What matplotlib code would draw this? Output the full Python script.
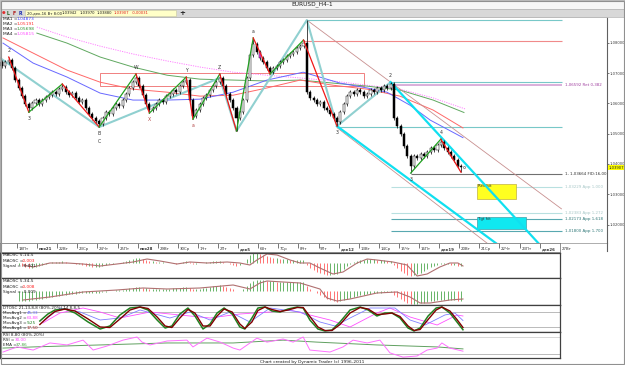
import numpy as np
import matplotlib.pyplot as plt
from matplotlib.patches import Rectangle
from matplotlib.transforms import blended_transform_factory

W, H = 625, 365

# ---------------- data ----------------
# EURUSD H4 candles, prices in pips above 1.0000
open_first_pips = 736
close_pips = [723, 736, 743, 717, 677, 651, 624, 598, 585, 601,
              611, 598, 611, 621, 628, 637, 631, 647, 654, 637,
              628, 634, 618, 604, 611, 585, 565, 552, 542, 532,
              552, 571, 565, 585, 598, 591, 611, 631, 651, 670,
              684, 657, 628, 598, 578, 585, 598, 611, 604, 624,
              631, 644, 637, 657, 670, 677, 611, 558, 578, 598,
              618, 628, 644, 657, 670, 684, 657, 631, 611, 585,
              552, 571, 611, 684, 760, 796, 769, 750, 736, 717,
              703, 717, 723, 736, 743, 756, 763, 769, 783, 789,
              799, 637, 618, 611, 598, 604, 585, 578, 565, 552,
              538, 571, 598, 624, 637, 631, 644, 637, 624, 631,
              644, 637, 651, 644, 657, 651, 664, 552, 525, 499,
              459, 426, 393, 426, 420, 433, 426, 439, 453, 446,
              463, 472, 453, 439, 426, 413, 393, 390]
high_pips = [742, 742, 753, 749, 723, 683, 657, 630, 604, 607,
             617, 617, 617, 627, 634, 643, 643, 653, 664, 660,
             643, 640, 640, 624, 617, 617, 591, 571, 558, 548,
             558, 577, 577, 591, 604, 604, 617, 637, 657, 676,
             697, 690, 663, 634, 604, 591, 604, 617, 617, 630,
             637, 650, 650, 663, 676, 687, 683, 617, 584, 604,
             624, 634, 650, 663, 676, 697, 690, 663, 637, 617,
             591, 577, 617, 690, 766, 816, 802, 775, 756, 742,
             723, 723, 729, 742, 749, 762, 769, 775, 789, 795,
             809, 875, 643, 624, 617, 610, 610, 591, 584, 571,
             558, 577, 604, 630, 643, 643, 650, 650, 643, 637,
             650, 650, 657, 657, 663, 663, 670, 670, 558, 531,
             505, 465, 432, 432, 432, 439, 439, 445, 459, 459,
             469, 482, 478, 459, 445, 432, 419, 399]
low_pips = [717, 717, 730, 711, 671, 645, 618, 592, 571, 579,
            595, 592, 592, 605, 615, 622, 625, 625, 641, 631,
            622, 622, 612, 598, 598, 579, 559, 546, 536, 522,
            526, 546, 559, 559, 579, 585, 585, 605, 625, 645,
            664, 651, 622, 592, 568, 572, 579, 592, 598, 598,
            618, 625, 631, 631, 651, 664, 605, 548, 552, 572,
            592, 612, 622, 638, 651, 664, 651, 625, 605, 579,
            509, 546, 565, 605, 678, 754, 763, 744, 730, 711,
            697, 697, 711, 717, 730, 737, 750, 757, 763, 777,
            783, 631, 612, 605, 592, 592, 579, 572, 559, 546,
            525, 532, 565, 592, 618, 625, 625, 631, 618, 618,
            625, 631, 631, 638, 638, 645, 645, 546, 519, 493,
            453, 420, 370, 387, 414, 414, 420, 420, 433, 440,
            440, 457, 447, 433, 420, 407, 387, 373]
marked_bar = 77

# moving averages (bar, pips)
ma1_x = [0.3, 9.3, 19.4, 29.3, 39.1, 49.3, 59.1, 69.0, 79.1, 89.9, 100.9, 109.0, 114.9, 121.8, 127.8, 137.6]
ma1_pips = [799, 733, 687, 634, 611, 611, 614, 637, 677, 703, 667, 651, 637, 594, 545, 487]
ma2_x = [0.3, 9.3, 19.4, 29.3, 39.1, 49.3, 59.1, 69.0, 79.1, 89.0, 98.8, 109.0, 118.8, 128.7, 137.6]
ma2_pips = [816, 766, 710, 670, 647, 637, 624, 627, 651, 677, 660, 647, 624, 578, 519]
ma3_x = [10.4, 19.4, 29.3, 39.1, 49.3, 59.1, 69.0, 79.1, 89.0, 98.8, 109.0, 118.8, 128.7, 137.9]
ma3_pips = [832, 799, 753, 720, 693, 680, 677, 674, 677, 667, 657, 644, 611, 570]
ma4_x = [10.4, 19.4, 29.3, 39.1, 49.3, 59.1, 69.0, 79.1, 89.0, 98.8, 109.0, 118.8, 128.7, 138.2]
ma4_pips = [852, 819, 789, 763, 740, 720, 703, 693, 684, 674, 660, 647, 618, 582]
ma_names = ["MA1 =", "MA2 =", "MA3 =", "MA4 ="]
ma_values = ["1,04873", "1,05191", "1,05698", "1,05815"]

# swing zigzags
zz_bars = [2, 8, 18, 29, 40, 44, 55, 57, 65, 70, 75, 80, 90, 100]
zz_pips = [753, 571, 664, 522, 697, 568, 687, 548, 697, 509, 816, 697, 809, 525]
zz2_bars = [122, 131, 137]
zz2_pips = [370, 482, 373]
pattern_bars = [-0.6, 29, 65, 70, 91, 100, 116]
pattern_pips = [750, 522, 684, 509, 875, 525, 670]
wave_text = ["2", "3", "B", "W", "X", "Y", "a", "Z", "a", "3", "2", "3", "4"]
wave_bars = [2, 8, 29, 40, 44, 55, 57, 65, 75, 100, 116, 122, 131]
wave_top = [1, 0, 0, 1, 0, 1, 0, 1, 1, 0, 1, 0, 1]

# trend lines: (bar0, pips0, bar1, pips1)
cyan_lines = [(116, 670, 162, 116), (100, 525, 149, 126)]
rosy_lines = [(91, 875, 167, 252), (100, 520, 147, 120)]

# horizontal levels
level_pips = [875, 806, 672, 659.2, 522, 366.4, 322.9, 238.3, 217.3, 180.0]
level_from = [91, 90, 116, 116, 100, 122, 116, 116, 116, 116]
level_text = ["", "", "", "1,06592 Ret 0,382", "", "1, 1,03664 FID:16,00",
              "1,03229 App 1,000", "1,02383 App 1,272", "1,02173 App 1,618", "1,01800 App 1,700"]
level_color = ["#78c8c8", "#f08a8a", "#78c8c8", "#d8a8d8", "#78c8c8", "#707070",
               "#b8e0e0", "#b8e0e0", "#58a8b0", "#58a8b0"]
level_tcolor = ["", "", "", "#a040a0", "", "#303030", "#a8c8c8", "#a8c8c8", "#307878", "#307878"]

# zones: (bar0, bar1, pips_low, pips_high)
box_zone = (29.3, 108.1, 657, 700)
rev_zone = (141.8, 153.4, 284, 334)
tgt_zone = (141.8, 156.4, 185, 225)

day_labels = ["18Пт", "ноя21", "22Вт", "23Ср", "24Чт", "25Пт", "ноя28", "29Вт", "30Ср", "1Чт",
              "2Пт", "дек5", "6Вт", "7Ср", "8Чт", "9Пт", "дек12", "13Вт", "14Ср", "15Чт",
              "16Пт", "дек19", "20Вт", "21Ср", "22Чт", "23Пт", "дек26", "27Вт"]

# MAOSC 5,14,5 histogram (x0.001) from bar 5, signal line points
osc1_start = 5
osc1_hist = [-2, -3, -4, -5, -5, -4, -3, -2, -1, 0,
             1, 1, 1, 2, 1, 0, 0, -1, -1, -2,
             -3, -3, -4, -4, -4, -3, -2, -1, -1, 0,
             0, 1, 2, 3, 4, 5, 5, 4, 3, 2,
             2, 1, 1, 1, 0, 0, 0, -1, 0, 1,
             2, 1, -1, -1, 0, 0, 1, 1, 2, 2,
             2, 1, 0, -1, -2, -3, -2, 0, 4, 8,
             10, 10, 9, 8, 7, 6, 5, 5, 4, 4,
             4, 3, 3, 3, 3, 3, -2, -5, -7, -9,
             -10, -11, -12, -12, -11, -11, -9, -6, -3, -1,
             1, 2, 3, 3, 4, 4, 4, 3, 3, 3,
             2, 2, -2, -5, -8, -10, -12, -13, -12, -11,
             -10, -8, -6, -4, -3, -2, -1, -1, -1, -2,
             -2, -3, -3]
osc1_sig_x = [6.3, 9.3, 14.3, 19.4, 24.2, 29.3, 34.3, 39.1, 43.3, 47.2, 52.2, 56.1, 61.2, 67.2, 71.0, 74.0,
              76.1, 79.1, 82.1, 86.0, 89.0, 91.9, 94.9, 98.8, 101.8, 106.0, 109.0, 111.9, 116.7, 120.9,
              123.9, 126.9, 130.7, 133.7, 136.1, 137.6]
osc1_sig = [-2, -4, 0, 0, -1, -3, -1, 1, 4, 2, -1, 1, 0, 1, 0, -2,
            3, 9, 8, 3, 0, 0, -5, -11, -9, 0, 4, 3, 1, -2,
            -13, -11, -4, 0, 0, -3]

# MAOSC 5,34,5
osc2_start = 5
osc2_hist = [-10, -10, -10, -10, -9, -9, -8, -8, -7, -6,
             -6, -5, -5, -4, -4, -3, -3, -3, -2, -2,
             -2, -2, -2, -2, -2, -1, -1, 0, 0, 1,
             1, 1, 2, 3, 3, 4, 4, 3, 3, 2,
             2, 2, 2, 2, 2, 2, 3, 3, 3, 4,
             4, 3, 2, 2, 2, 3, 3, 4, 5, 5,
             6, 5, 4, 3, 2, 0, 0, 2, 5, 8,
             10, 11, 11, 11, 10, 10, 10, 9, 9, 9,
             9, 9, 9, 9, 9, 9, 5, 2, 0, -2,
             -4, -6, -8, -9, -10, -11, -10, -9, -8, -7,
             -6, -5, -4, -4, -3, -3, -2, -2, -2, -1,
             -1, -1, -4, -6, -8, -10, -12, -13, -13, -13,
             -12, -12, -11, -10, -10, -9, -9, -9, -9, -9,
             -9, -10, -10]
osc2_sig_x = [6.3, 14.3, 24.2, 34.3, 42.1, 49.3, 59.1, 69.0, 74.0, 77.0, 79.1, 83.9, 89.0, 94.9,
              97.0, 100.0, 103.9, 111.9, 117.9, 121.8, 124.8, 127.8, 133.7, 137.6]
osc2_sig = [-9, -6, -1, 1, 3, 2, 3, 6, 2, 8, 10, 9, 8, 2,
            -7, -10, -8, -2, -1, -6, -12, -12, -9, -8]

# DTOSC
dt_fast_x = [11.3, 13.7, 15.8, 18.8, 21.8, 25.7, 29.3, 32.2, 35.2, 38.2,
             41.2, 43.6, 46.3, 48.7, 50.7, 53.1, 55.5, 57.6, 60.0, 62.1,
             64.2, 66.3, 68.7, 71.0, 72.5, 74.6, 76.4, 78.5, 80.6, 83.0,
             85.4, 88.1, 89.9, 91.9, 94.3, 96.4, 98.5, 100.9, 103.9, 106.9,
             109.3, 111.9, 114.3, 116.4, 118.8, 121.2, 123.0, 124.8, 127.2, 129.6,
             131.3, 133.7, 135.8, 137.6]
dt_green = [44, 72, 88, 92, 76, 40, 12, 24, 68, 96,
            100, 88, 48, 16, 24, 72, 96, 64, 12, 32,
            76, 96, 72, 20, 12, 56, 96, 100, 84, 80,
            92, 100, 96, 48, 12, 4, 8, 40, 88, 100,
            88, 64, 76, 76, 56, 16, 4, 16, 64, 96,
            100, 76, 40, 9]
dt_maroon = [30, 60, 82, 92, 84, 52, 20, 18, 52, 88,
             100, 94, 60, 24, 18, 56, 90, 76, 24, 24,
             64, 92, 80, 32, 14, 40, 86, 100, 90, 82,
             88, 98, 98, 62, 20, 6, 6, 30, 76, 98,
             92, 70, 72, 76, 62, 24, 6, 10, 50, 88,
             100, 84, 50, 18]
dt_blue_x = [12.8, 17.3, 23.3, 29.3, 35.2, 41.2, 45.7, 50.1, 56.1, 62.1, 68.1, 74.0,
             80.0, 89.0, 94.9, 99.4, 103.9, 109.9, 117.3, 121.8, 126.3, 132.2, 135.2, 137.6]
dt_blue = [48, 96, 80, 48, 56, 88, 72, 56, 80, 48, 80, 40,
           96, 80, 40, 24, 56, 96, 96, 48, 28, 68, 76, 46]
dt_mag_x = [12.2, 17.3, 24.2, 29.3, 35.2, 44.2, 53.1, 62.1, 71.0, 80.0,
            86.0, 91.9, 97.9, 103.9, 111.9, 115.8, 121.8, 129.9, 135.8, 137.6]
dt_mag = [36, 76, 96, 80, 56, 80, 68, 56, 72, 80,
          88, 68, 48, 20, 76, 96, 60, 28, 68, 64]

# RSI
rsi_x = [0.3, 4.5, 9.3, 14.3, 19.4, 24.2, 27.2, 31.3, 36.1, 40.3,
         41.8, 44.2, 49.3, 55.2, 57.0, 61.2, 65.1, 69.0, 71.0, 76.1,
         79.1, 83.9, 86.9, 89.9, 91.9, 97.9, 101.8, 104.8, 109.0, 112.8,
         115.8, 119.7, 123.9, 126.9, 129.9, 131.3, 133.7, 137.6]
rsi = [27, 45, 34, 59, 52, 69, 34, 48, 69, 80,
       62, 52, 66, 69, 45, 76, 62, 41, 34, 76,
       62, 73, 62, 80, 34, 27, 45, 69, 59, 69,
       24, 9, 13, 34, 41, 59, 41, 30]
ema_x = [0.3, 9.3, 29.3, 49.3, 69.0, 83.9, 94.0, 111.9, 129.9, 137.6]
ema = [41, 45, 52, 59, 59, 69, 62, 52, 45, 38]

# ---------------- helpers ----------------
PX_BAR = 3.35   # pixels per H4 bar
X_OFF = 2       # pixel of bar 0


def bar_at(px):
    return (px - X_OFF) / PX_BAR


def P(pips):
    return 1 + np.asarray(pips, dtype=float) / 1e4


fig = plt.figure(figsize=(6.25, 3.65), dpi=100)
fig.patch.set_facecolor("white")


def px_axes(x0, y0, x1, y1):
    return fig.add_axes([x0 / W, 1 - y1 / H, (x1 - x0) / W, (y1 - y0) / H])


def ftext(x, y, s, size=3.6, color="#202020", **kw):
    fig.text(x / W, 1 - y / H, s, fontsize=size, color=color, va="center", ha="left", **kw)


def frect(x0, y0, x1, y1, **kw):
    fig.patches.append(Rectangle((x0 / W, 1 - y1 / H), (x1 - x0) / W, (y1 - y0) / H,
                                 transform=fig.transFigure, **kw))


# title bar and toolbar
frect(0, 0, W, 9, facecolor="#f6f6f6", edgecolor="#b0b0b0", lw=0.6)
fig.text(312 / W, 1 - 4.5 / H, "EURUSD_H4-1", fontsize=4.2, ha="center", va="center", color="#202020")
frect(0, 9, W, 17, facecolor="#d8d8d8", edgecolor="#b8b8b8", lw=0.5)
frect(25, 10.3, 176, 16, facecolor="#ffffc8", edgecolor="#c8c8a0", lw=0.4)
ftext(1.5, 13.3, "●", size=3.0, color="#e03030")
ftext(7, 13.3, "L", size=3.4, color="#206020", fontweight="bold")
ftext(13, 13.3, "F", size=3.4, color="#b02020", fontweight="bold")
ftext(19, 13.3, "R", size=3.4, color="#2030b0", fontweight="bold")
ftext(27, 13.3, "20-дек-16 Вт 8:00", size=2.7)
ftext(62, 13.3, "1,03942", size=2.7)
ftext(80, 13.3, "1,03970", size=2.7)
ftext(97, 13.3, "1,03880", size=2.7)
ftext(114, 13.3, "1,03907", size=2.7, color="#e02020")
ftext(132, 13.3, "-0,00031", size=2.7, color="#e02020")
ftext(179, 13.3, "+", size=5, color="#202020", fontweight="bold")

# ---------------- main price panel ----------------
ax = px_axes(0, 17, 607, 243)
ax.set_xlim(bar_at(0), bar_at(607))
ax.set_ylim(1.013927, 1.088515)
ax.set_xticks([])
for s in ["left", "top", "bottom"]:
    ax.spines[s].set_color("#a0a0a0")
    ax.spines[s].set_linewidth(0.6)
ax.spines["right"].set_color("#606060")
ax.spines["right"].set_linewidth(0.8)
ax.yaxis.tick_right()
yt = np.arange(1.02, 1.081, 0.01)
ax.set_yticks(yt)
ax.set_yticklabels([f"{v:.5f}".replace(".", ",") for v in yt])
ax.tick_params(axis="y", labelsize=2.7, length=1.5, width=0.5, pad=0.6, colors="#404040")

# zone rectangle
bz = box_zone
ax.add_patch(Rectangle((bz[0], P(bz[2])), bz[1] - bz[0], P(bz[3]) - P(bz[2]),
                       facecolor="none", edgecolor="#f08080", lw=0.7, zorder=1))

# horizontal levels
x_end = bar_at(562)
for p, b0, c, t, tc in zip(level_pips, level_from, level_color, level_text, level_tcolor):
    lw = 1.3 if c == "#d8a8d8" else 0.8
    ax.hlines(P(p), b0, x_end, colors=c, lw=lw, zorder=1)
    if t:
        ax.text(bar_at(565), P(p), t, fontsize=2.9, color=tc, va="center", ha="left")

# reversal / target boxes
rz, tz = rev_zone, tgt_zone
ax.add_patch(Rectangle((rz[0], P(rz[2])), rz[1] - rz[0], P(rz[3]) - P(rz[2]),
                       facecolor="#ffff20", edgecolor="#c0b040", lw=0.5, zorder=2))
ax.text(rz[0] + 0.4, P(rz[3]) - 0.0006, "Rev hit", fontsize=2.8, va="center", color="#303030", zorder=3)
ax.add_patch(Rectangle((tz[0], P(tz[2])), tz[1] - tz[0], P(tz[3]) - P(tz[2]),
                       facecolor="#10e8f0", edgecolor="#40a0a8", lw=0.5, zorder=2))
ax.text(tz[0] + 0.4, P(tz[3]) - 0.0005, "Tgt hit", fontsize=2.8, va="center", color="#303030", zorder=3)

# moving averages
ax.plot(ma4_x, P(ma4_pips), color="#ff80ff", lw=0.7, ls=(0, (1.2, 1.2)), zorder=2)
ax.plot(ma3_x, P(ma3_pips), color="#60a860", lw=0.7, zorder=2)
ax.plot(ma2_x, P(ma2_pips), color="#ff6868", lw=0.7, zorder=2)
ax.plot(ma1_x, P(ma1_pips), color="#6868ff", lw=0.7, zorder=2)

# trend lines
for b0, p0, b1, p1 in rosy_lines:
    ax.plot([b0, b1], P([p0, p1]), color="#c89090", lw=0.6, zorder=2)
ax.plot(pattern_bars, P(pattern_pips), color="#90d0d0", lw=1.5, zorder=2)
for b0, p0, b1, p1 in cyan_lines:
    ax.plot([b0, b1], P([p0, p1]), color="#10e0f0", lw=1.6, zorder=3)

# candles
closes = P(close_pips)
opens = np.r_[P(open_first_pips), closes[:-1]]
highs = P(high_pips)
lows = P(low_pips)
xb = np.arange(len(closes))
ax.vlines(xb, lows, highs, colors="black", lw=0.5, zorder=4)
up = closes >= opens
body_lo = np.minimum(opens, closes)
body_h = np.maximum(np.abs(closes - opens), 0.00012)
fc = np.where(up, "white", "black").astype(object)
fc[marked_bar] = "#ff40ff"
ax.bar(xb, body_h, bottom=body_lo, width=0.62, color=list(fc), edgecolor="black", lw=0.35, zorder=5)

# swing zigzags
for bars, pips in [(zz_bars, zz_pips), (zz2_bars, zz2_pips)]:
    pr = P(pips)
    for k in range(len(bars) - 1):
        col = "#20a020" if pr[k + 1] > pr[k] else "#f01818"
        ax.plot(bars[k:k + 2], pr[k:k + 2], color=col, lw=0.9, zorder=6)

# wave labels
for t, b, top in zip(wave_text, wave_bars, wave_top):
    if top:
        ax.annotate(t, (b, highs[b]), xytext=(0, 3.2), textcoords="offset points",
                    fontsize=3.3, ha="center", va="bottom", color="#303030")
    else:
        col = "#b04040" if t in ("X", "a") else "#303030"
        ax.annotate(t, (b, lows[b]), xytext=(0, -2.5), textcoords="offset points",
                    fontsize=3.3, ha="center", va="top", color=col)
ax.annotate("C", (29, lows[29]), xytext=(0, -8.5), textcoords="offset points",
            fontsize=3.3, ha="center", va="top", color="#303030")
ax.plot(xb[-1] + 1, closes[-1], marker="o", ms=1.5, mfc="none", mec="#505050", mew=0.4)

# current price tag on the axis
tr = blended_transform_factory(ax.transAxes, ax.transData)
ax.text(1.003, closes[-1] - 0.0003, "1,03907", transform=tr, fontsize=2.7, va="center", ha="left",
        color="#202020", bbox=dict(boxstyle="square,pad=0.12", fc="#ffff00", ec="none"), clip_on=False)

# MA legend
ma_cols = ["#4040ff", "#ff3030", "#309030", "#ff50ff"]
for k, (n, v, c) in enumerate(zip(ma_names, ma_values, ma_cols)):
    ftext(3, 19 + 5 * k, n, size=3.2)
    ftext(17, 19 + 5 * k, v, size=3.2, color=c)

# ---------------- date strip ----------------
xl_low = (bar_at(0), bar_at(560))
axd = px_axes(0, 243, 560, 252)
axd.set_xlim(*xl_low)
axd.set_ylim(0, 1)
axd.set_xticks([])
axd.set_yticks([])
for s in axd.spines.values():
    s.set_color("#808080")
    s.set_linewidth(0.6)
for k, lab in enumerate(day_labels):
    tb = 4.5 + 6 * k
    axd.vlines(tb, 0.45, 1, colors="#404040", lw=0.5)
    bold = lab[0].isalpha()
    axd.text(tb + 0.5, 0.3, lab, fontsize=2.8, va="center", ha="left", color="#303030",
             fontweight="bold" if bold else "normal")
fig.lines.append(plt.Line2D([607 / W, 607 / W], [1 - 243 / H, 1 - 251 / H],
                            transform=fig.transFigure, color="#606060", lw=0.8))


# ---------------- indicator panels ----------------
def panel(y0, y1):
    a = px_axes(0, y0, 560, y1)
    a.set_xlim(*xl_low)
    a.set_xticks([])
    a.set_yticks([])
    for s in a.spines.values():
        s.set_color("#404040")
        s.set_linewidth(0.9)
    return a


def hist(a, start, vals):
    v = np.asarray(vals, dtype=float) / 1000
    x = np.arange(start, start + len(v))
    d = np.diff(np.r_[v[0], v])
    cols = np.where(d >= 0, "#50a850", "#ff5c5c")
    a.vlines(x, 0, v, colors=cols, lw=0.6)


a1 = panel(253, 278)
a1.set_ylim(-0.015, 0.010)
hist(a1, osc1_start, osc1_hist)
a1.plot(osc1_sig_x, np.array(osc1_sig) / 1000, color="#b07070", lw=0.8)
ftext(3, 255.5, "MAOSC 5,14,5", size=3.1)
ftext(3, 260.5, "MAOSC =", size=3.1)
ftext(22, 260.5, "-0,003", size=3.1, color="#ff2020")
ftext(3, 265.5, "Signal = -0,001", size=3.1)

a2 = panel(278, 305)
a2.set_ylim(-0.014, 0.013)
hist(a2, osc2_start, osc2_hist)
a2.plot(osc2_sig_x, np.array(osc2_sig) / 1000, color="#b07070", lw=0.8)
ftext(3, 281.5, "MAOSC 5,34,5", size=3.1)
ftext(3, 286.5, "MAOSC =", size=3.1)
ftext(22, 286.5, "-0,008", size=3.1, color="#ff2020")
ftext(3, 291.5, "Signal = -0,009", size=3.1)

a3 = panel(305, 332)
a3.set_ylim(0, 108)
a3.axhline(80, color="#b0b0b0", lw=0.6)
a3.axhline(20, color="#b0b0b0", lw=0.6)
a3.plot(dt_mag_x, dt_mag, color="#ff50ff", lw=0.6)
a3.plot(dt_blue_x, dt_blue, color="#8080ff", lw=0.6)
a3.plot(dt_fast_x, dt_green, color="#208020", lw=1.1)
a3.plot(dt_fast_x, dt_maroon, color="#800000", lw=1.0)
ftext(3, 308, "DTOSC 21,13,8,8 (80%-20%) 14,8,8,5", size=3.0)
st_names = ["MovAvg1 =", "MovAvg2 =", "MovAvg3 =", "MovAvg4 ="]
st_vals = ["45,33", "63,88", "9,25", "17,50"]
st_cols = ["#6060ff", "#ff40ff", "#208020", "#a02020"]
for k in range(4):
    ftext(3, 313 + 5 * k, st_names[k], size=3.0)
    ftext(27, 313 + 5 * k, st_vals[k], size=3.0, color=st_cols[k])

a4 = panel(332, 358)
a4.set_ylim(5.9, 97.7)
a4.axhline(80, color="#c8c8c8", lw=0.5)
a4.axhline(20, color="#b0b0b0", lw=0.6)
a4.plot(ema_x, ema, color="#60a060", lw=0.7)
a4.plot(rsi_x, rsi, color="#ff70ff", lw=0.7)
ftext(3, 335, "RSI 8,80 (80%-20%)", size=3.0)
ftext(3, 340, "RSI =", size=3.0)
ftext(15, 340, "30,00", size=3.0, color="#ff40ff")
ftext(3, 345, "EMA =", size=3.0)
ftext(16, 345, "37,86", size=3.0, color="#40a040")

fig.text(312 / W, 1 - 361.5 / H, "Chart created by Dynamic Trader (c) 1996-2011",
         fontsize=3.2, ha="center", va="center", color="#202020")

# outer frame
frect(0.5, 0.5, W - 1.5, H - 1.5, facecolor="none", edgecolor="#909090", lw=0.8)

fig.savefig("out.png", dpi=100)
